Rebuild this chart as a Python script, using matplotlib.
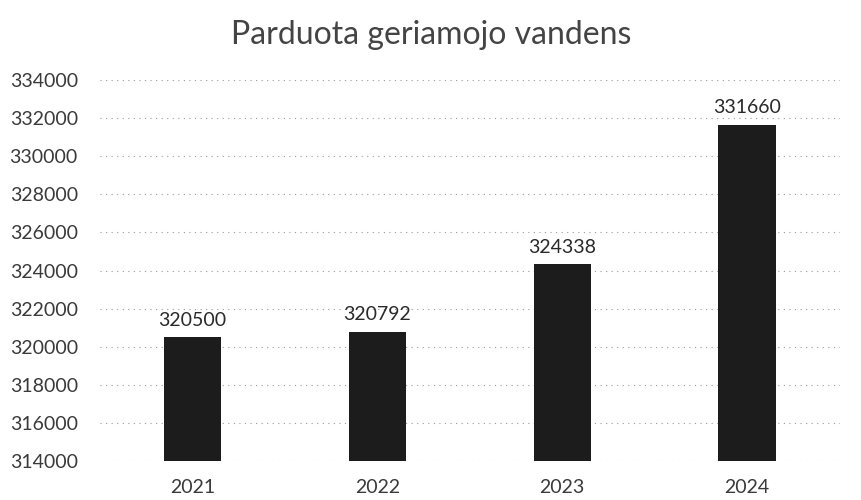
import matplotlib
matplotlib.use('Agg')
import matplotlib.pyplot as plt

years = ['2021', '2022', '2023', '2024']
sold = [320500, 320792, 324338, 331660]
title = 'Parduota geriamojo vandens'

plt.rcParams['font.family'] = ['Lato', 'DejaVu Sans']

fig = plt.figure(figsize=(8.62, 5), dpi=100)
ax = fig.add_axes([0.116, 0.078, 0.858, 0.762])

bars = ax.bar(range(len(years)), sold, width=0.31, color='#1c1c1c', zorder=2)
ax.set_xlim(-0.5, len(years) - 0.5)
ax.set_ylim(314000, 334000)
ax.set_yticks(range(314000, 334001, 2000))
ax.set_xticks(range(len(years)))
ax.set_xticklabels(years)
ax.grid(axis='y', color='#999999', linestyle=(0, (1, 4)), linewidth=0.8, zorder=0)

for s in ax.spines.values():
    s.set_visible(False)
ax.tick_params(axis='both', length=0, labelsize=14, colors='#3a3a3a')
ax.tick_params(axis='y', pad=16)
ax.tick_params(axis='x', pad=13)

for b, v in zip(bars, sold):
    ax.annotate(str(v), (b.get_x() + b.get_width() / 2, v), xytext=(0, 6),
                textcoords='offset points', ha='center', va='bottom',
                fontsize=14, color='#2a2a2a')

fig.text(0.5, 0.93, title, ha='center', va='center', fontsize=23,
         fontweight='normal', color='#444444')

fig.savefig('out.png', dpi=100)
